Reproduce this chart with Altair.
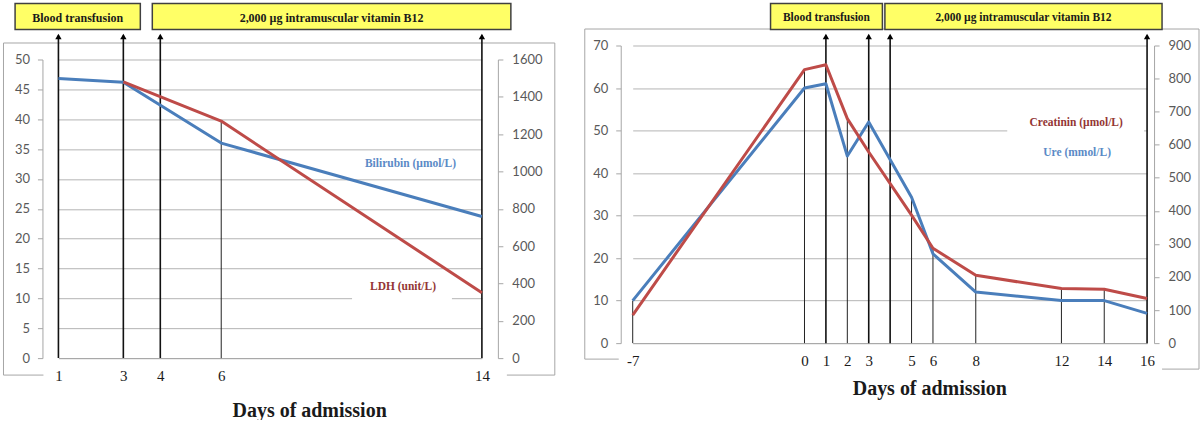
import altair as alt
import pandas as pd

# ---------------- data ----------------
left_days = [1, 3, 6, 14]
bilirubin = [46.8, 46.2, 36.0, 23.7]
ldh_days = [3, 6, 14]
ldh = [1480, 1270, 350]
left_tick_days = [1, 3, 4, 6, 14]
left_arrow_days = [1, 3, 4, 14]
left_drop_days = [6]
left_y_ticks = list(range(0, 51, 5))
left_y2_ticks = list(range(0, 1601, 200))

right_days = [-7, 0, 1, 2, 3, 5, 6, 8, 12, 14, 16]
ure = [10, 60, 61, 44, 52, 34.3, 21, 12, 10, 10, 7]
creatinin = [85, 827, 842, 679, 578, 387, 287, 205, 165, 163, 135]
right_tick_days = [-7, 0, 1, 2, 3, 5, 6, 8, 12, 14, 16]
right_arrow_days = [1, 3, 4, 16]
right_drop_days = [-7, 0, 2, 5, 6, 8, 12, 14]
right_y_ticks = list(range(0, 71, 10))
right_y2_ticks = list(range(0, 901, 100))

box_labels = ["Blood transfusion", "2,000 µg intramuscular vitamin B12"]
x_title = "Days of admission"
left_series_labels = ["Bilirubin (µmol/L)", "LDH (unit/L)"]
right_series_labels = ["Creatinin (µmol/L)", "Ure (mmol/L)"]

# ---------------- styles ----------------
BLUE = "#4A7EBB"
RED = "#BE4B48"
BLUE_TXT = "#5B8AC6"
RED_TXT = "#943634"
GRID = "#b4b4b4"
AXIS = "#a6a6a6"
FRAME = "#a6a6a6"
DARK = "#1a1a1a"
GRAYTXT = "#595959"
YELLOW = "#FFFF66"
SERIF = "Liberation Serif"
SANS = "Lato"

one = pd.DataFrame({"k": [0]})


def drop_tops(days, a_days, a_vals, b_days, b_vals, ratio):
    la = dict(zip(a_days, a_vals))
    lb = dict(zip(b_days, b_vals))
    return [max(la.get(d, 0), lb.get(d, 0) * ratio) for d in days]


def seg(x1, x2, y1, y2, color=FRAME, width=1):
    return alt.Chart(one).mark_rule(color=color, strokeWidth=width).encode(
        x=alt.value(x1), x2=alt.value(x2), y=alt.value(y1), y2=alt.value(y2))


def panel(W, H, top, da, db, ticks, arrow_days, drop_days, xdom, xrng, ya_max, ya_ticks,
          yb_max, yb_ticks, title_xy, frame, boxes, box_fs, labels, mask, arrow_top):
    x = alt.X("day:Q",
              scale=alt.Scale(domain=xdom, range=xrng, nice=False, zero=False),
              axis=alt.Axis(values=ticks, ticks=False, tickSize=0, grid=False,
                            domainColor=AXIS, labelFont=SERIF, labelFontSize=15,
                            labelColor=DARK, labelPadding=10, labelFlush=False,
                            labelOverlap=False, labelExpr="'' + datum.value",
                            title=x_title, titleFont=SERIF, titleFontSize=20,
                            titleFontWeight="bold", titleColor=DARK,
                            titleX=title_xy[0], titleY=title_xy[1],
                            titleAlign="center", titleBaseline="middle"))
    ya_axis = alt.Axis(values=ya_ticks, grid=True, gridColor=GRID, domainColor=AXIS,
                       tickColor=AXIS, tickSize=5, labelPadding=8, labelFont=SANS,
                       labelFontSize=13, labelColor=GRAYTXT, title=None, orient="left",
                       format="d")
    ya_scale = alt.Scale(domain=[0, ya_max], range=[H, top], nice=False, zero=True)
    yb_axis = alt.Axis(values=yb_ticks, grid=False, domainColor=AXIS, tickColor=AXIS,
                       tickSize=5, labelPadding=9, labelFont=SANS, labelFontSize=13,
                       labelColor=GRAYTXT, title=None, orient="right", format="d")
    yb_scale = alt.Scale(domain=[0, yb_max], range=[H, top], nice=False, zero=True)

    layers = []
    # frame
    for (x1, x2, y1, y2) in frame:
        layers.append(seg(x1, x2, y1, y2))
    # white textbox mask over a gridline
    mx1, mx2, my1, my2 = mask
    layers.append(alt.Chart(one).mark_rect(fill="white").encode(
        x=alt.value(mx1), x2=alt.value(mx2), y=alt.value(my1), y2=alt.value(my2)))
    # drop lines
    tops = drop_tops(drop_days, da["day"], da["v"], db["day"], db["v"], ya_max / yb_max)
    ddf = pd.DataFrame({"day": drop_days, "top": tops, "zero": [0] * len(drop_days)})
    layers.append(alt.Chart(ddf).mark_rule(color="#222222", strokeWidth=1).encode(
        x=x, y=alt.Y("top:Q", scale=ya_scale, axis=ya_axis), y2="zero:Q"))
    # arrows
    adf = pd.DataFrame({"day": arrow_days})
    layers.append(alt.Chart(adf).mark_rule(color="#111111", strokeWidth=1.6).encode(
        x=x, y=alt.value(H), y2=alt.value(arrow_top + 3)))
    layers.append(alt.Chart(adf).mark_point(shape="triangle-up", filled=True, size=40,
                                            color="#000000", opacity=1).encode(
        x=x, y=alt.value(arrow_top + 4)))
    # boxes
    for (bx1, bx2, by1, by2), txt in zip(boxes, box_labels):
        layers.append(alt.Chart(one).mark_rect(fill=YELLOW, stroke="#404040",
                                               strokeWidth=1.5).encode(
            x=alt.value(bx1), x2=alt.value(bx2), y=alt.value(by1), y2=alt.value(by2)))
        layers.append(alt.Chart(one).mark_text(text=txt, font=SERIF, fontWeight="bold",
                                               fontSize=box_fs, color=DARK).encode(
            x=alt.value((bx1 + bx2) / 2), y=alt.value((by1 + by2) / 2 + 1)))
    # series labels
    for (lx, ly, txt, col) in labels:
        layers.append(alt.Chart(one).mark_text(text=txt, font=SERIF, fontWeight="bold",
                                               fontSize=11.5, color=col).encode(
            x=alt.value(lx), y=alt.value(ly)))
    # series A (left axis)
    layers.append(alt.Chart(da).mark_line(color=BLUE, strokeWidth=3, strokeJoin="round").encode(
        x=x, y=alt.Y("v:Q", scale=ya_scale, axis=ya_axis)))
    left_layer = alt.layer(*layers)
    right_layer = alt.Chart(db).mark_line(color=RED, strokeWidth=3, strokeJoin="round").encode(
        x=x, y=alt.Y("v:Q", scale=yb_scale, axis=yb_axis))
    return alt.layer(left_layer, right_layer).resolve_scale(y="independent").properties(
        width=W, height=H)


# ---------------- left panel (plot origin shared with right panel) ----------------
LW, LH, LTOP = 456, 313, 14
df_bili = pd.DataFrame({"day": left_days, "v": bilirubin})
df_ldh = pd.DataFrame({"day": ldh_days, "v": ldh})
left = panel(
    LW, LH, LTOP, df_bili, df_ldh, left_tick_days, left_arrow_days, left_drop_days,
    [1, 3, 4, 6, 14], [16, 81, 118, 179, 440],
    50, left_y_ticks, 1600, left_y2_ticks,
    (267, 52),
    [(-39, 513, -2.5, -2.5), (-39, -39, -2.5, 330), (513, 513, -2.5, 330),
     (-39, 1, 330, 330), (465, 513, 330, 330)],
    [(-27.4, 98, -42, -16), (110, 469, -42, -16)], 12,
    [(368.5, 118.5, left_series_labels[0], BLUE_TXT),
     (361, 242, left_series_labels[1], RED_TXT)],
    (310, 410, 250, 256),
    -13,
)

# ---------------- right panel ----------------
RW, RH = 534, 298
df_ure = pd.DataFrame({"day": right_days, "v": ure})
df_cre = pd.DataFrame({"day": right_days, "v": creatinin})
right = panel(
    RW, RH, 0, df_ure, df_cre, right_tick_days, right_arrow_days, right_drop_days,
    [-7, 0, 16], [12, 184, 527],
    70, right_y_ticks, 900, right_y2_ticks,
    (309, 45),
    [(-36, 579, -16.5, -16.5), (-36, -36, -16.5, 314), (579, 579, -16.5, 324),
     (-36, -2, 314, 314), (542, 579, 324, 324)],
    [(150, 262, -42, -16), (264.5, 542, -42, -16)], 11.5,
    [(456, 78, right_series_labels[0], RED_TXT),
     (457, 108, right_series_labels[1], BLUE_TXT)],
    (387, 524, 82, 88),
    -13,
)

chart = alt.hconcat(left, right, spacing=28).properties(
    padding={"left": 2.5, "top": 2.3, "right": 0, "bottom": 0}
).configure_view(stroke=None)

chart.save("out.html", embed_options={"renderer": "svg", "actions": False})
